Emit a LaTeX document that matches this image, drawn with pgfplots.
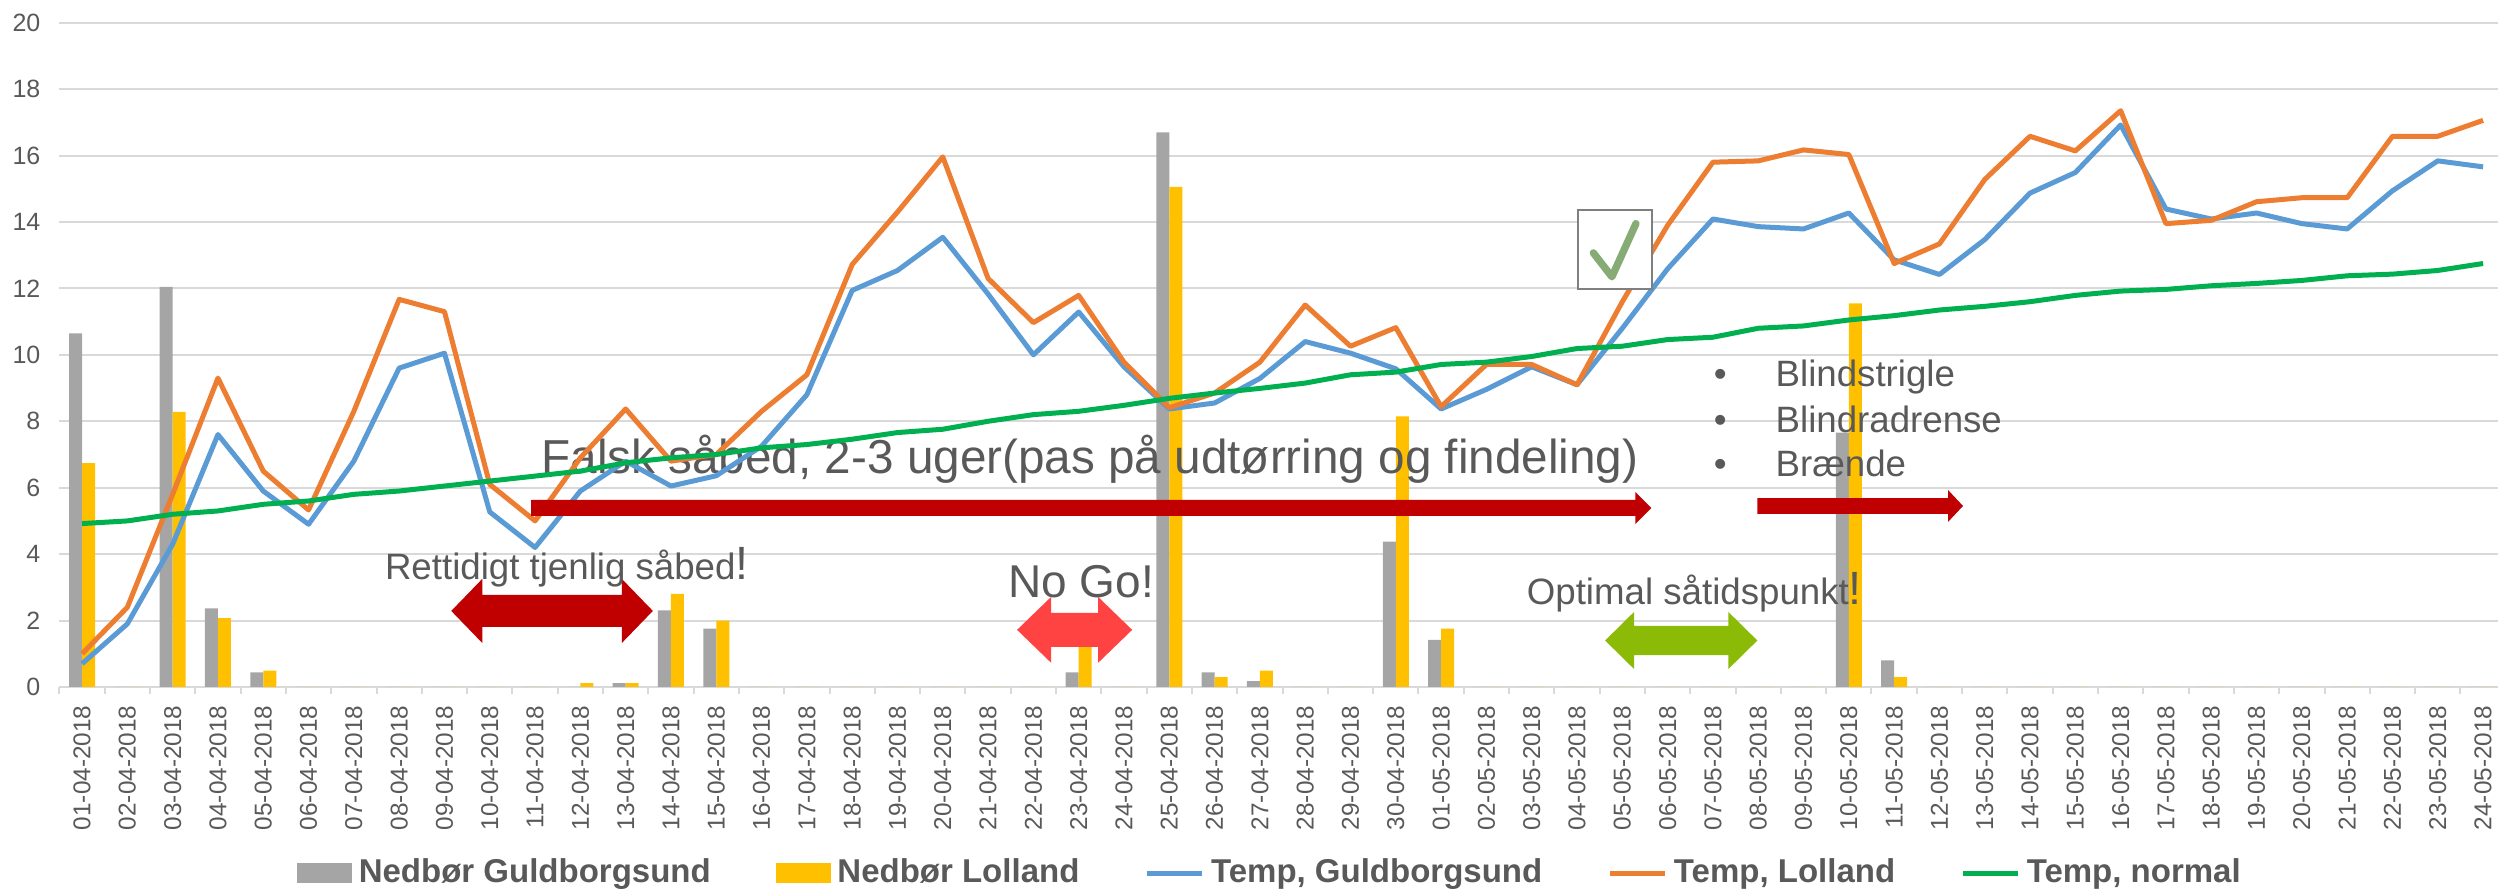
\documentclass[border=0pt]{standalone}
\usepackage{fontspec}
\setmainfont{Liberation Sans}
\setsansfont{Liberation Sans}
\usepackage{pgfplots}
\usepackage{pgfplotstable}
\pgfplotsset{compat=1.18}
\definecolor{gridgray}{HTML}{D9D9D9}
\definecolor{txtgray}{HTML}{595959}
\definecolor{barGray}{HTML}{A5A5A5}
\definecolor{barYellow}{HTML}{FFC000}
\definecolor{lineBlue}{HTML}{5B9BD5}
\definecolor{lineOrange}{HTML}{ED7D31}
\definecolor{lineGreen}{HTML}{00B050}
\definecolor{darkred}{HTML}{C00000}
\definecolor{nogored}{HTML}{FF4343}
\definecolor{optgreen}{HTML}{8CBB07}
\definecolor{checkgreen}{HTML}{86AB75}
\definecolor{boxgray}{HTML}{7F7F7F}

\pgfplotstableread{
i gray yellow blue orange green
0 10.65 6.74 0.70 1.00 4.92
1 0 0 1.90 2.40 5.00
2 12.05 8.28 4.30 5.80 5.20
3 2.37 2.07 7.60 9.30 5.30
4 0.44 0.49 5.90 6.50 5.50
5 0 0 4.90 5.33 5.60
6 0 0 6.80 8.30 5.80
7 0 0 9.60 11.67 5.90
8 0 0 10.05 11.30 6.05
9 0 0 5.27 6.10 6.20
10 0 0 4.20 5.00 6.35
11 0 0.12 5.90 6.90 6.50
12 0.12 0.12 6.80 8.37 6.75
13 2.31 2.80 6.05 6.80 6.90
14 1.76 2.00 6.36 7.00 7.00
15 0 0 7.25 8.30 7.20
16 0 0 8.80 9.40 7.30
17 0 0 11.94 12.72 7.46
18 0 0 12.54 14.30 7.66
19 0 0 13.54 15.96 7.76
20 0 0 11.83 12.30 8.00
21 0 0 10.00 10.97 8.20
22 0.44 1.60 11.29 11.79 8.30
23 0 0 9.64 9.78 8.48
24 16.70 15.06 8.37 8.41 8.69
25 0.44 0.30 8.55 8.85 8.85
26 0.18 0.49 9.29 9.78 8.99
27 0 0 10.40 11.50 9.15
28 0 0 10.05 10.26 9.40
29 4.38 8.15 9.58 10.82 9.48
30 1.42 1.76 8.37 8.44 9.71
31 0 0 8.96 9.71 9.78
32 0 0 9.64 9.71 9.95
33 0 0 9.10 9.10 10.19
34 0 0 10.80 11.60 10.26
35 0 0 12.59 13.90 10.46
36 0 0 14.09 15.80 10.53
37 0 0 13.86 15.84 10.80
38 0 0 13.79 16.17 10.87
39 7.66 11.55 14.27 16.03 11.05
40 0.80 0.30 12.86 12.75 11.18
41 0 0 12.42 13.34 11.35
42 0 0 13.47 15.28 11.46
43 0 0 14.87 16.58 11.60
44 0 0 15.49 16.14 11.79
45 0 0 16.92 17.35 11.92
46 0 0 14.39 13.95 11.97
47 0 0 14.09 14.05 12.08
48 0 0 14.27 14.61 12.15
49 0 0 13.95 14.73 12.24
50 0 0 13.79 14.73 12.38
51 0 0 14.94 16.58 12.43
52 0 0 15.84 16.58 12.54
53 0 0 15.66 17.06 12.75
}\data

\begin{document}
\begin{tikzpicture}
\useasboundingbox (0,0) rectangle (749.4pt,267.3pt);
\begin{axis}[
  at={(17.82pt,61.2pt)}, anchor=south west,
  scale only axis, width=731.58pt, height=199.29pt,
  xmin=-0.5, xmax=53.33, ymin=0, ymax=20,
  enlargelimits=false,
  axis line style={draw=none},
  ymajorgrids, grid style={draw=gridgray, line width=0.6pt},
  ytick={0,2,...,20},
  xtick={0,1,...,53},
  xticklabels={01-04-2018,02-04-2018,03-04-2018,04-04-2018,05-04-2018,06-04-2018,07-04-2018,08-04-2018,09-04-2018,10-04-2018,11-04-2018,12-04-2018,13-04-2018,14-04-2018,15-04-2018,16-04-2018,17-04-2018,18-04-2018,19-04-2018,20-04-2018,21-04-2018,22-04-2018,23-04-2018,24-04-2018,25-04-2018,26-04-2018,27-04-2018,28-04-2018,29-04-2018,30-04-2018,01-05-2018,02-05-2018,03-05-2018,04-05-2018,05-05-2018,06-05-2018,07-05-2018,08-05-2018,09-05-2018,10-05-2018,11-05-2018,12-05-2018,13-05-2018,14-05-2018,15-05-2018,16-05-2018,17-05-2018,18-05-2018,19-05-2018,20-05-2018,21-05-2018,22-05-2018,23-05-2018,24-05-2018},
  major tick length=0pt,
  tick pos=left,
  tick align=outside,
  extra x ticks={-0.5,0.5,...,52.5},
  extra x tick labels={},
  extra x tick style={grid=none, major tick length=2.1pt, tick style={draw=gridgray, line width=0.6pt}},
  /pgf/number format/assume math mode=true,
  xticklabel style={yshift=-5.4pt, rotate=90, anchor=east, inner sep=0pt, font=\fontsize{7.3}{8}\selectfont, text=txtgray},
  yticklabel style={xshift=-5.5pt, anchor=east, inner sep=0pt, font=\fontsize{7.5}{9}\selectfont, text=txtgray},
  legend columns=5,
  legend style={at={(0.496,-0.28)}, anchor=center, draw=none, fill=none, inner sep=0pt,
    font=\bfseries\fontsize{9.9}{12}\selectfont, text=txtgray,
    nodes={inner sep=0pt},
    /tikz/every even column/.append style={column sep=19.5pt},
    /tikz/every odd column/.append style={column sep=2pt}},
]
\addplot[ybar, bar width=3.9pt, bar shift=-1.95pt, fill=barGray, draw=none,
  legend image code/.code={\fill[barGray] (0pt,-3pt) rectangle (16.5pt,3pt);}]
  table[x=i,y=gray]{\data};
\addlegendentry{Nedbør Guldborgsund}
\addplot[ybar, bar width=3.9pt, bar shift=1.95pt, fill=barYellow, draw=none,
  legend image code/.code={\fill[barYellow] (0pt,-3pt) rectangle (16.5pt,3pt);}]
  table[x=i,y=yellow]{\data};
\addlegendentry{Nedbør Lolland}

\node[anchor=base, inner sep=0pt, font=\fontsize{14.3}{16}\selectfont, text=txtgray]
  at (axis cs:22.25,6.42) {Falsk såbed, 2-3 uger(pas på udtørring og findeling)};

\addplot[lineBlue, line width=1.5pt, line join=round, mark=none,
  legend image code/.code={\draw[lineBlue, line width=1.5pt] (0pt,0pt) -- (16.5pt,0pt);}]
  table[x=i,y=blue]{\data};
\addlegendentry{Temp, Guldborgsund}
\addplot[lineOrange, line width=1.5pt, line join=round, mark=none,
  legend image code/.code={\draw[lineOrange, line width=1.5pt] (0pt,0pt) -- (16.5pt,0pt);}]
  table[x=i,y=orange]{\data};
\addlegendentry{Temp, Lolland}
\addplot[lineGreen, line width=1.5pt, line join=round, mark=none,
  legend image code/.code={\draw[lineGreen, line width=1.5pt] (0pt,0pt) -- (16.5pt,0pt);}]
  table[x=i,y=green]{\data};
\addlegendentry{Temp, normal}

% big arrow (Falsk saabed)
\fill[darkred] (axis cs:9.91,5.15) -- (axis cs:34.29,5.15) -- (axis cs:34.29,4.91) -- (axis cs:34.64,5.39) -- (axis cs:34.29,5.87) -- (axis cs:34.29,5.63) -- (axis cs:9.91,5.63) -- cycle;
% small arrow
\fill[darkred] (axis cs:36.98,5.21) -- (axis cs:41.19,5.21) -- (axis cs:41.19,4.97) -- (axis cs:41.52,5.45) -- (axis cs:41.19,5.93) -- (axis cs:41.19,5.69) -- (axis cs:36.98,5.69) -- cycle;
% Rettidigt double arrow
\fill[darkred] (axis cs:8.15,2.29) -- (axis cs:8.834,3.254) -- (axis cs:8.834,2.772) -- (axis cs:11.916,2.772) -- (axis cs:11.916,3.254) -- (axis cs:12.6,2.29) -- (axis cs:11.916,1.326) -- (axis cs:11.916,1.808) -- (axis cs:8.834,1.808) -- (axis cs:8.834,1.326) -- cycle;
% No Go double arrow
\fill[nogored] (axis cs:20.64,1.72) -- (axis cs:21.39,2.71) -- (axis cs:21.39,2.23) -- (axis cs:22.43,2.23) -- (axis cs:22.43,2.71) -- (axis cs:23.18,1.72) -- (axis cs:22.43,0.73) -- (axis cs:22.43,1.21) -- (axis cs:21.39,1.21) -- (axis cs:21.39,0.73) -- cycle;
% Optimal double arrow
\fill[optgreen] (axis cs:33.62,1.40) -- (axis cs:34.26,2.26) -- (axis cs:34.26,1.837) -- (axis cs:36.34,1.837) -- (axis cs:36.34,2.26) -- (axis cs:36.98,1.40) -- (axis cs:36.34,0.54) -- (axis cs:36.34,0.963) -- (axis cs:34.26,0.963) -- (axis cs:34.26,0.54) -- cycle;

\node[anchor=base, inner sep=0pt, font=\fontsize{11}{13}\selectfont, text=txtgray]
  at (axis cs:10.7,3.25) {Rettidigt tjenlig såbed{\fontsize{14}{16}\selectfont !}};
\node[anchor=base, inner sep=0pt, font=\fontsize{13.8}{16}\selectfont, text=txtgray]
  at (axis cs:22.05,2.68) {No Go!};
\node[anchor=base, inner sep=0pt, font=\fontsize{11}{13}\selectfont, text=txtgray]
  at (axis cs:35.59,2.47) {Optimal såtidspunkt{\fontsize{14}{16}\selectfont !}};

% bullet list
\node[anchor=base, inner sep=0pt, font=\fontsize{11}{13}\selectfont, text=txtgray] at (axis cs:36.16,9.04) {•};
\node[anchor=base, inner sep=0pt, font=\fontsize{11}{13}\selectfont, text=txtgray] at (axis cs:36.16,7.65) {•};
\node[anchor=base, inner sep=0pt, font=\fontsize{11}{13}\selectfont, text=txtgray] at (axis cs:36.16,6.33) {•};
\node[anchor=base west, inner sep=0pt, font=\fontsize{11}{13}\selectfont, text=txtgray] at (axis cs:37.37,9.04) {Blindstrigle};
\node[anchor=base west, inner sep=0pt, font=\fontsize{11}{13}\selectfont, text=txtgray] at (axis cs:37.37,7.65) {Blindradrense};
\node[anchor=base west, inner sep=0pt, font=\fontsize{11}{13}\selectfont, text=txtgray] at (axis cs:37.37,6.33) {Brænde};

% check box
\draw[boxgray, line width=0.5pt, fill=white] (axis cs:33.02,11.99) rectangle (axis cs:34.66,14.37);
\draw[checkgreen, line width=2.2pt, line cap=round, line join=round] (axis cs:33.36,13.07) -- (axis cs:33.77,12.35) -- (axis cs:34.30,13.95);
\end{axis}
\end{tikzpicture}
\end{document}
